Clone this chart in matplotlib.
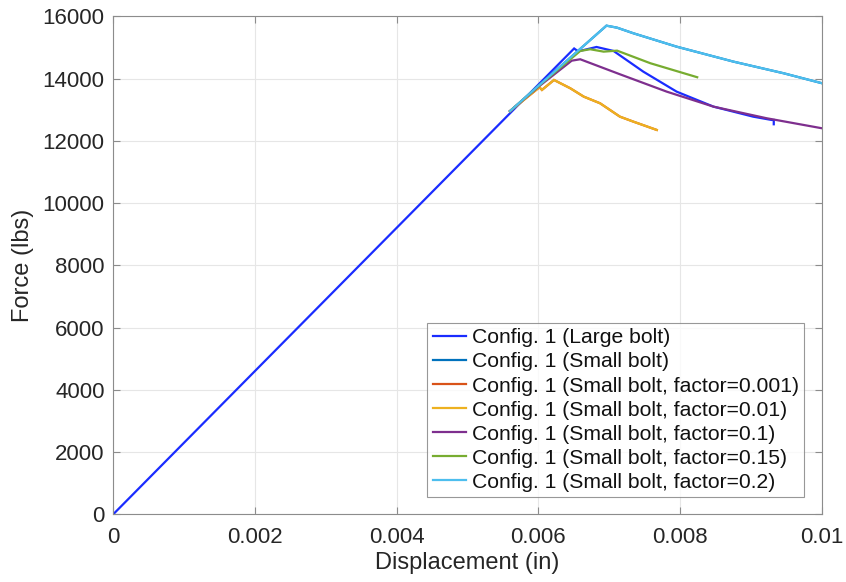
import matplotlib
matplotlib.use("Agg")
import matplotlib.pyplot as plt

plt.rcParams['font.family'] = ['Liberation Sans', 'DejaVu Sans']

# Force-displacement data for each bolt configuration
x_large = [0.0, 0.006504, 0.00656, 0.00682, 0.00706, 0.00748, 0.00795, 0.00847, 0.00903, 0.00929, 0.00932, 0.00932]
y_large = [0, 14972, 14880, 15020, 14892, 14227, 13585, 13103, 12781, 12675, 12675, 12537]

x_small = [0.00560, 0.00600, 0.00696, 0.00711, 0.00734, 0.00795, 0.00875, 0.00946, 0.01000]
y_small = [12960, 13770, 15705, 15640, 15460, 15030, 14550, 14175, 13855]

x_f001 = [0.0056, 0.006015, 0.00605, 0.00622, 0.00645, 0.00664, 0.00687, 0.00715, 0.00734, 0.00767]
y_f001 = [12960, 13726, 13640, 13960, 13693, 13424, 13211, 12781, 12621, 12354]

x_f01 = [0.0056, 0.006015, 0.00605, 0.00622, 0.00645, 0.00664, 0.00687, 0.00715, 0.00734, 0.00767]
y_f01 = [12960, 13726, 13640, 13960, 13693, 13424, 13211, 12781, 12621, 12354]

x_f1 = [0.00560, 0.00600, 0.00647, 0.00659, 0.00715, 0.00781, 0.00847, 0.00922, 0.01000]
y_f1 = [12960, 13740, 14580, 14625, 14143, 13585, 13103, 12730, 12408]

x_f15 = [0.00560, 0.00600, 0.00659, 0.00673, 0.00692, 0.00711, 0.00758, 0.00824]
y_f15 = [12960, 13760, 14892, 14947, 14870, 14902, 14497, 14048]

x_f2 = [0.00560, 0.00600, 0.00696, 0.00711, 0.00734, 0.00795, 0.00875, 0.00946, 0.01000]
y_f2 = [12960, 13770, 15705, 15640, 15460, 15030, 14550, 14175, 13855]

labels = [
    'Config. 1 (Large bolt)',
    'Config. 1 (Small bolt)',
    'Config. 1 (Small bolt, factor=0.001)',
    'Config. 1 (Small bolt, factor=0.01)',
    'Config. 1 (Small bolt, factor=0.1)',
    'Config. 1 (Small bolt, factor=0.15)',
    'Config. 1 (Small bolt, factor=0.2)',
]
colors = ['#1a2cff', '#0072BD', '#D95319', '#EDB120', '#7E2F8E', '#77AC30', '#4DBEEE']

xticks = [0, 0.002, 0.004, 0.006, 0.008, 0.01]
xtick_labels = ['0', '0.002', '0.004', '0.006', '0.008', '0.01']
yticks = [0, 2000, 4000, 6000, 8000, 10000, 12000, 14000, 16000]
ytick_labels = [str(v) for v in yticks]

fig = plt.figure(figsize=(8.46, 5.82), dpi=100)
ax = fig.add_axes([0.1336, 0.116, 0.838, 0.8557])

series = [(x_large, y_large), (x_small, y_small), (x_f001, y_f001), (x_f01, y_f01),
          (x_f1, y_f1), (x_f15, y_f15), (x_f2, y_f2)]
for (xs, ys), lab, c in zip(series, labels, colors):
    ax.plot(xs, ys, color=c, lw=1.6, label=lab, solid_joinstyle='miter')

ax.set_xlim(0, 0.01)
ax.set_ylim(0, 16000)
ax.set_xticks(xticks)
ax.set_xticklabels(xtick_labels)
ax.set_yticks(yticks)
ax.set_yticklabels(ytick_labels)
ax.grid(True, color='#e6e6e6', lw=0.8)
ax.set_axisbelow(True)
for s in ax.spines.values():
    s.set_color('#8c8c8c')
    s.set_linewidth(0.8)
ax.tick_params(direction='in', top=True, right=True, length=5, width=0.8,
               color='#8c8c8c', labelsize=16, labelcolor='#262626')
ax.tick_params(axis='x', pad=9)
ax.tick_params(axis='y', pad=6)
ax.set_xlabel('Displacement (in)', fontsize=17, color='#262626', labelpad=3)
ax.set_ylabel('Force (lbs)', fontsize=17, color='#262626', labelpad=6)

leg = ax.legend(loc='lower right', bbox_to_anchor=(0.9746, 0.035), fontsize=15.2,
                frameon=True, fancybox=False, borderpad=0.25, labelspacing=0.24,
                handlelength=1.6, handletextpad=0.25, borderaxespad=0)
leg.get_frame().set_edgecolor('#7f7f7f')
leg.get_frame().set_linewidth(0.8)
for t in leg.get_texts():
    t.set_color('#111111')

fig.savefig('out.png', dpi=100)
